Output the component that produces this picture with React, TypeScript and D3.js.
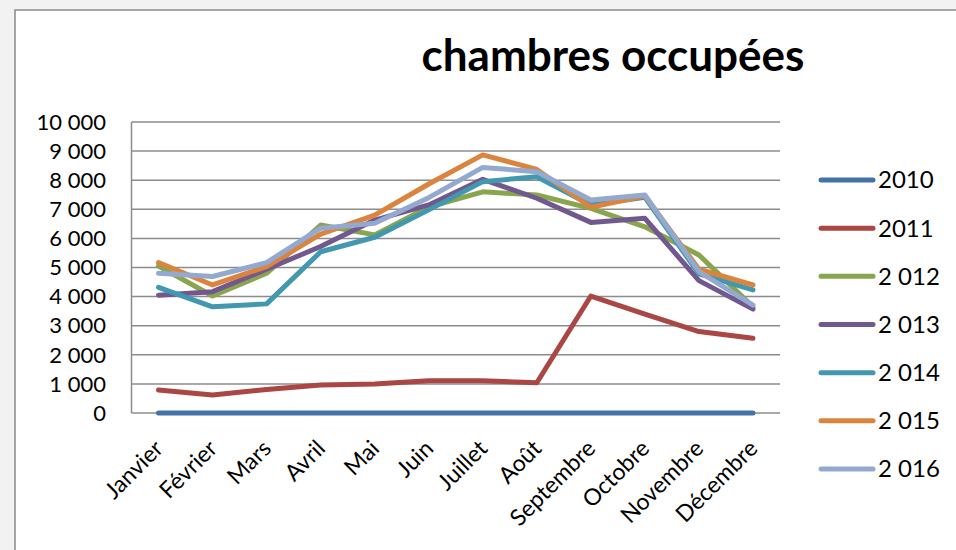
import React, { useEffect, useRef } from 'react';
import * as d3 from 'd3';

const months = ['Janvier', 'Février', 'Mars', 'Avril', 'Mai', 'Juin', 'Juillet', 'Août', 'Septembre', 'Octobre', 'Novembre', 'Décembre'];
const seriesNames = ['2010', '2011', '2 012', '2 013', '2 014', '2 015', '2 016'];
const seriesColors = ['#4572A7', '#AA4643', '#89A54E', '#71588F', '#4198AF', '#DB843D', '#93A9CF'];

const v2010 = [0, 0, 0, 0, 0, 0, 0, 0, 0, 0, 0, 0];
const v2011 = [790, 620, 810, 960, 1000, 1110, 1110, 1040, 4020, 3400, 2800, 2570];
const v2012 = [5050, 4020, 4800, 6460, 6120, 7080, 7600, 7490, 7030, 6400, 5430, 3650];
const v2013 = [4050, 4170, 4940, 5720, 6630, 7150, 8030, 7380, 6550, 6690, 4550, 3570];
const v2014 = [4320, 3650, 3750, 5540, 6040, 6980, 7950, 8120, 7150, 7410, 4780, 4230];
const v2015 = [5170, 4400, 5030, 6150, 6800, 7870, 8870, 8370, 7070, 7460, 4940, 4400];
const v2016 = [4800, 4690, 5170, 6350, 6520, 7400, 8440, 8290, 7320, 7490, 4860, 3710];
const seriesValues = [v2010, v2011, v2012, v2013, v2014, v2015, v2016];

const yTicks = [0, 1000, 2000, 3000, 4000, 5000, 6000, 7000, 8000, 9000, 10000];

const W = 956;
const H = 550;
const FONT = 'Lato, "Open Sans", sans-serif';

const App: React.FC = () => {
  const svgRef = useRef<SVGSVGElement>(null);

  useEffect(() => {
    if (!svgRef.current) return;
    const svg = d3.select(svgRef.current);
    svg.selectAll('*').remove();

    // page background + chart frame
    svg.append('rect').attr('x', 0).attr('y', 0).attr('width', W).attr('height', H).attr('fill', '#f2f2f2');
    svg.append('rect')
      .attr('x', 15).attr('y', 10).attr('width', W).attr('height', H)
      .attr('fill', '#ffffff').attr('stroke', '#8a8a8a').attr('stroke-width', 1.5);

    const plotL = 131.5, plotR = 780, plotT = 122, plotB = 413;

    const x = d3.scaleBand<string>().domain(months).range([plotL, plotR]);
    const y = d3.scaleLinear().domain([0, 10000]).range([plotB, plotT]);
    const fmt = (v: number) => d3.format(',')(v).replace(/,/g, ' ');

    // gridlines
    svg.append('g').selectAll('line').data(yTicks).enter().append('line')
      .attr('x1', plotL).attr('x2', plotR)
      .attr('y1', d => y(d)).attr('y2', d => y(d))
      .attr('stroke', '#8c8c8c').attr('stroke-width', 1.5);

    // y axis line
    svg.append('line')
      .attr('x1', plotL).attr('x2', plotL).attr('y1', plotT).attr('y2', plotB)
      .attr('stroke', '#8c8c8c').attr('stroke-width', 1.5);

    // y tick labels
    svg.append('g').selectAll('text').data(yTicks).enter().append('text')
      .attr('x', 106).attr('y', d => y(d))
      .attr('dy', '0.35em')
      .attr('text-anchor', 'end')
      .attr('font-family', FONT).attr('font-size', 22).attr('fill', '#000')
      .text(d => fmt(d));

    // x tick labels, rotated
    svg.append('g').selectAll('text').data(months).enter().append('text')
      .attr('transform', d => `translate(${(x(d) as number) + x.bandwidth() / 2 + 6},${plotB + 37}) rotate(-45)`)
      .attr('text-anchor', 'end')
      .attr('font-family', FONT).attr('font-size', 23).attr('fill', '#000')
      .text(d => d);

    // series lines
    const line = d3.line<number>()
      .x((_, i) => (x(months[i]) as number) + x.bandwidth() / 2)
      .y(d => y(d));

    seriesValues.forEach((vals, i) => {
      svg.append('path')
        .attr('d', line(vals))
        .attr('fill', 'none')
        .attr('stroke', seriesColors[i])
        .attr('stroke-width', 5)
        .attr('stroke-linejoin', 'round')
        .attr('stroke-linecap', 'round');
    });

    // legend
    const legendY = d3.scalePoint<string>().domain(seriesNames).range([180, 469]);
    seriesNames.forEach((name, i) => {
      const ly = legendY(name) as number;
      svg.append('line')
        .attr('x1', 821).attr('x2', 873).attr('y1', ly).attr('y2', ly)
        .attr('stroke', seriesColors[i]).attr('stroke-width', 5)
        .attr('stroke-linecap', 'round');
      svg.append('text')
        .attr('x', 878).attr('y', ly).attr('dy', '0.35em')
        .attr('font-family', FONT).attr('font-size', 24).attr('fill', '#000')
        .text(name);
    });

    // title
    svg.append('text')
      .attr('x', 613).attr('y', 71)
      .attr('text-anchor', 'middle')
      .attr('font-family', FONT).attr('font-weight', 'bold').attr('font-size', 44).attr('fill', '#000')
      .text('chambres occupées');
  }, []);

  return (
    <div style={{ position: 'fixed', left: 0, top: 0, width: W, height: H, overflow: 'hidden' }}>
      <svg ref={svgRef} width={W} height={H} style={{ display: 'block' }} />
    </div>
  );
};

export default App;
